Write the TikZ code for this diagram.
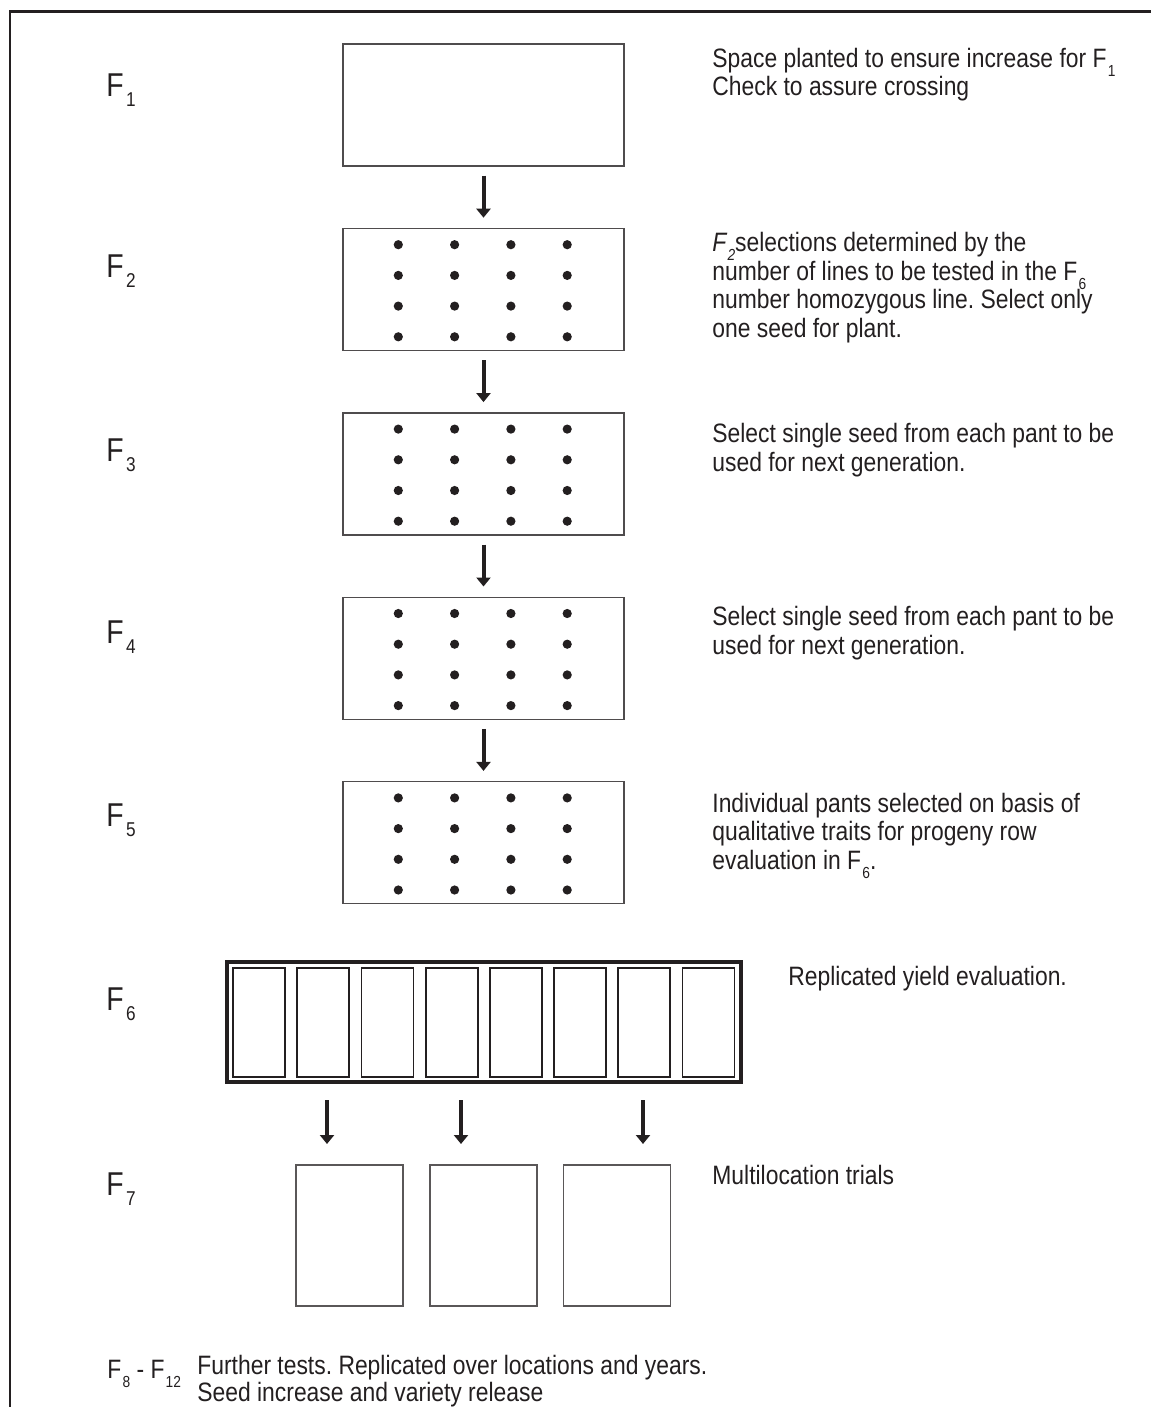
\documentclass[tikz,border=0pt]{standalone}
\usepackage{fontspec}
\setmainfont{Liberation Sans}[FakeStretch=0.86]
\usetikzlibrary{arrows.meta,positioning}
\definecolor{ink}{HTML}{231F20}
\newcommand{\lowsub}[1]{\kern0.6pt\raisebox{-4.5pt}{\fontsize{8}{8}\selectfont #1}}
\newcommand{\gensub}[1]{\kern1.2pt\raisebox{-5pt}{\fontsize{10}{10}\selectfont #1}}
\frenchspacing

\begin{document}
\begin{tikzpicture}[x=0.5pt,y=-0.5pt]
\tikzstyle{plotbox} = [shape=rectangle, draw=ink!80, line width=0.7pt, minimum width=140.5pt, minimum height=61pt, inner sep=0pt, node distance=30.5pt];
\tikzstyle{cell} = [shape=rectangle, draw=ink, line width=0.9pt, minimum width=26pt, minimum height=54.5pt, inner sep=0pt];
\tikzstyle{trialbox} = [shape=rectangle, draw=ink!75, line width=0.7pt, minimum width=53.5pt, minimum height=70.5pt, inner sep=0pt];
\tikzstyle{gen} = [anchor=base west, inner sep=0pt, text=ink, font=\fontsize{16.5}{17}\selectfont];
\tikzstyle{note} = [anchor=base west, inner sep=0pt, text=ink, align=left, font=\fontsize{13.3}{14.25}\selectfont];
\tikzstyle{flow} = [draw=ink, line width=2pt, -{Triangle[width=7pt,length=4.5pt]}];

\useasboundingbox (0,0) rectangle (1151,1407);
\draw[ink, line width=1.4pt] (10,1407) -- (10,11.3) -- (1151,11.3);

\node[plotbox](Plot1) at (483.5,105) {};
\node[plotbox, below=of Plot1](Plot2) {};
\node[plotbox, below=of Plot2](Plot3) {};
\node[plotbox, below=of Plot3](Plot4) {};
\node[plotbox, below=of Plot4](Plot5) {};

\foreach \p in {Plot2,Plot3,Plot4,Plot5}
  \foreach \i in {0,...,3}
    \foreach \j in {0,...,3}
      \fill[ink] ([xshift={28pt+28.15pt*\i}, yshift={-8.5pt-15.35pt*\j}]\p.north west) circle (2.3pt);

\node[shape=rectangle, draw=ink, line width=2pt, minimum width=257pt, minimum height=60pt, inner sep=0pt](Yield) at (484,1022) {};
\foreach \i in {1,...,8}
  \node[cell](Cell\i) at (259+64.2*\i-64.2,1022.5) {};

\node[trialbox](Trial1) at (349.5,1235.5) {};
\node[trialbox](Trial2) at (483.5,1235.5) {};
\node[trialbox](Trial3) at (617,1235.5) {};

\coordinate (Out1) at (327,1100);
\coordinate (Out2) at (461,1100);
\coordinate (Out3) at (643,1100);
\coordinate (In1) at (327,1144);
\coordinate (In2) at (461,1144);
\coordinate (In3) at (643,1144);

\draw[flow] ([yshift=-4.5pt]Plot1.south) -- ([yshift=5pt]Plot2.north);
\draw[flow] ([yshift=-4.5pt]Plot2.south) -- ([yshift=5pt]Plot3.north);
\draw[flow] ([yshift=-4.5pt]Plot3.south) -- ([yshift=5pt]Plot4.north);
\draw[flow] ([yshift=-4.5pt]Plot4.south) -- ([yshift=5pt]Plot5.north);
\draw[flow] (Out1) -- (In1);
\draw[flow] (Out2) -- (In2);
\draw[flow] (Out3) -- (In3);

\node[gen](Gen1) at (106,97) {F\gensub{1}};
\node[gen](Gen2) at (106,278) {F\gensub{2}};
\node[gen](Gen3) at (106,461) {F\gensub{3}};
\node[gen](Gen4) at (106,643) {F\gensub{4}};
\node[gen](Gen5) at (106,826) {F\gensub{5}};
\node[gen](Gen6) at (106,1010) {F\gensub{6}};
\node[gen](Gen7) at (106,1195) {F\gensub{7}};

% base anchor of a multi-line note is its last line
\node[note](Note1) at (712,96) {Space planted to ensure increase for F\lowsub{1}\\Check to assure crossing};
\node[note](Note2) at (712,337) {\textit{F\lowsub{2}}selections determined by the\\number of lines to be tested in the F\lowsub{6}\\number homozygous line. Select only\\one seed for plant.};
\node[note](Note3) at (712,471) {Select single seed from each pant to be\\used for next generation.};
\node[note](Note4) at (712,654) {Select single seed from each pant to be\\used for next generation.};
\node[note](Note5) at (712,869) {Individual pants selected on basis of\\qualitative traits for progeny row\\evaluation in F\lowsub{6}.};
\node[note](Note6) at (788,985) {Replicated yield evaluation.};
\node[note](Note7) at (712,1184) {Multilocation trials};
\node[note](Later) at (107,1378) {F\lowsub{8} - F\lowsub{12}};
\node[note, font=\fontsize{13.3}{11.5}\selectfont](LaterNote) at (197,1401) {Further tests. Replicated over locations and years.\\Seed increase and variety release};
\end{tikzpicture}
\end{document}
